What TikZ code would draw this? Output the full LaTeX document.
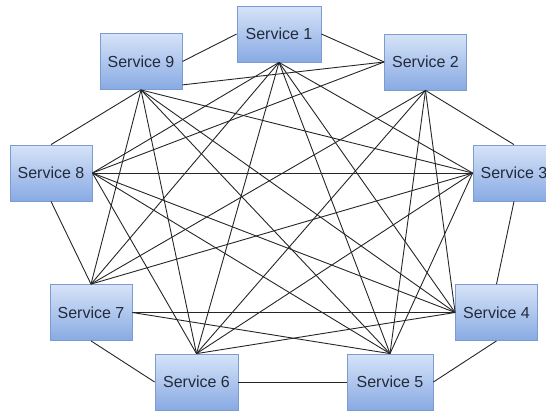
\documentclass[tikz,border=0pt]{standalone}
\usepackage{fontspec}
\setmainfont{Liberation Sans}
\usepackage{tikz}
\definecolor{boxtop}{HTML}{D6E3F8}
\definecolor{boxbot}{HTML}{88AAE3}
\definecolor{boxline}{HTML}{7C9CD0}
\definecolor{boxtext}{HTML}{232B3A}

\begin{document}
\begin{tikzpicture}[x=1pt,y=-1pt]
\tikzset{service/.style = {shape=rectangle,draw=boxline,line width=0.8pt,top color=boxtop,bottom color=boxbot,
  minimum width=82pt,minimum height=56pt,text=boxtext,font=\fontsize{16}{19}\selectfont}}
\tikzset{edge/.style = {-,line width=0.9pt,draw=black!85}}
\useasboundingbox (0,0) rectangle (546,410);
\clip (0,0) rectangle (546,410);

\node[service,minimum width=84pt] (s1) at (279,34) {Service 1};
\node[service] (s2) at (425.5,62) {Service 2};
\node[service] (s3) at (514,173) {Service 3};
\node[service] (s4) at (496.5,312.5) {Service 4};
\node[service,minimum width=86pt] (s5) at (390,382) {Service 5};
\node[service,minimum width=83pt] (s6) at (196.5,382) {Service 6};
\node[service] (s7) at (91,312.5) {Service 7};
\node[service] (s8) at (51,173) {Service 8};
\node[service] (s9) at (141,61.5) {Service 9};
\coordinate (s9r) at ([yshift=5pt]s9.south east);

% outer ring
\draw[edge] (s1.east)  to (s2.west);
\draw[edge] (s2.south) to (s3.north);
\draw[edge] (s3.south) to (s4.north);
\draw[edge] (s4.south) to (s5.east);
\draw[edge] (s5.west)  to (s6.east);
\draw[edge] (s6.west)  to (s7.south);
\draw[edge] (s7.north) to (s8.south);
\draw[edge] (s8.north) to (s9.south);
\draw[edge] (s9.east)  to (s1.west);

% inner edges
\draw[edge] (s1.south) to (s3.west);
\draw[edge] (s1.south) to (s4.west);
\draw[edge] (s1.south) to (s5.north);
\draw[edge] (s1.south) to (s6.north);
\draw[edge] (s1.south) to (s7.north);
\draw[edge] (s1.south) to (s8.east);

\draw[edge] (s2.south) to (s4.west);
\draw[edge] (s2.south) to (s5.north);
\draw[edge] (s2.south) to (s6.north);
\draw[edge] (s2.south) to (s7.north);
\draw[edge] (s2.west)  to (s8.east);
\draw[edge] (s2.west)  to (s9r);

\draw[edge] (s3.west) to (s5.north);
\draw[edge] (s3.west) to (s6.north);
\draw[edge] (s3.west) to (s7.north);
\draw[edge] (s3.west) to (s8.east);
\draw[edge] (s3.west) to (s9.south);

\draw[edge] (s4.west) to (s6.north);
\draw[edge] (s4.west) to (s7.east);
\draw[edge] (s4.west) to (s8.east);
\draw[edge] (s4.west) to (s9.south);

\draw[edge] (s5.north) to (s7.east);
\draw[edge] (s5.north) to (s8.east);
\draw[edge] (s5.north) to (s9.south);

\draw[edge] (s6.north) to (s8.east);
\draw[edge] (s6.north) to (s9.south);

\draw[edge] (s7.north) to (s9.south);
\end{tikzpicture}
\end{document}
